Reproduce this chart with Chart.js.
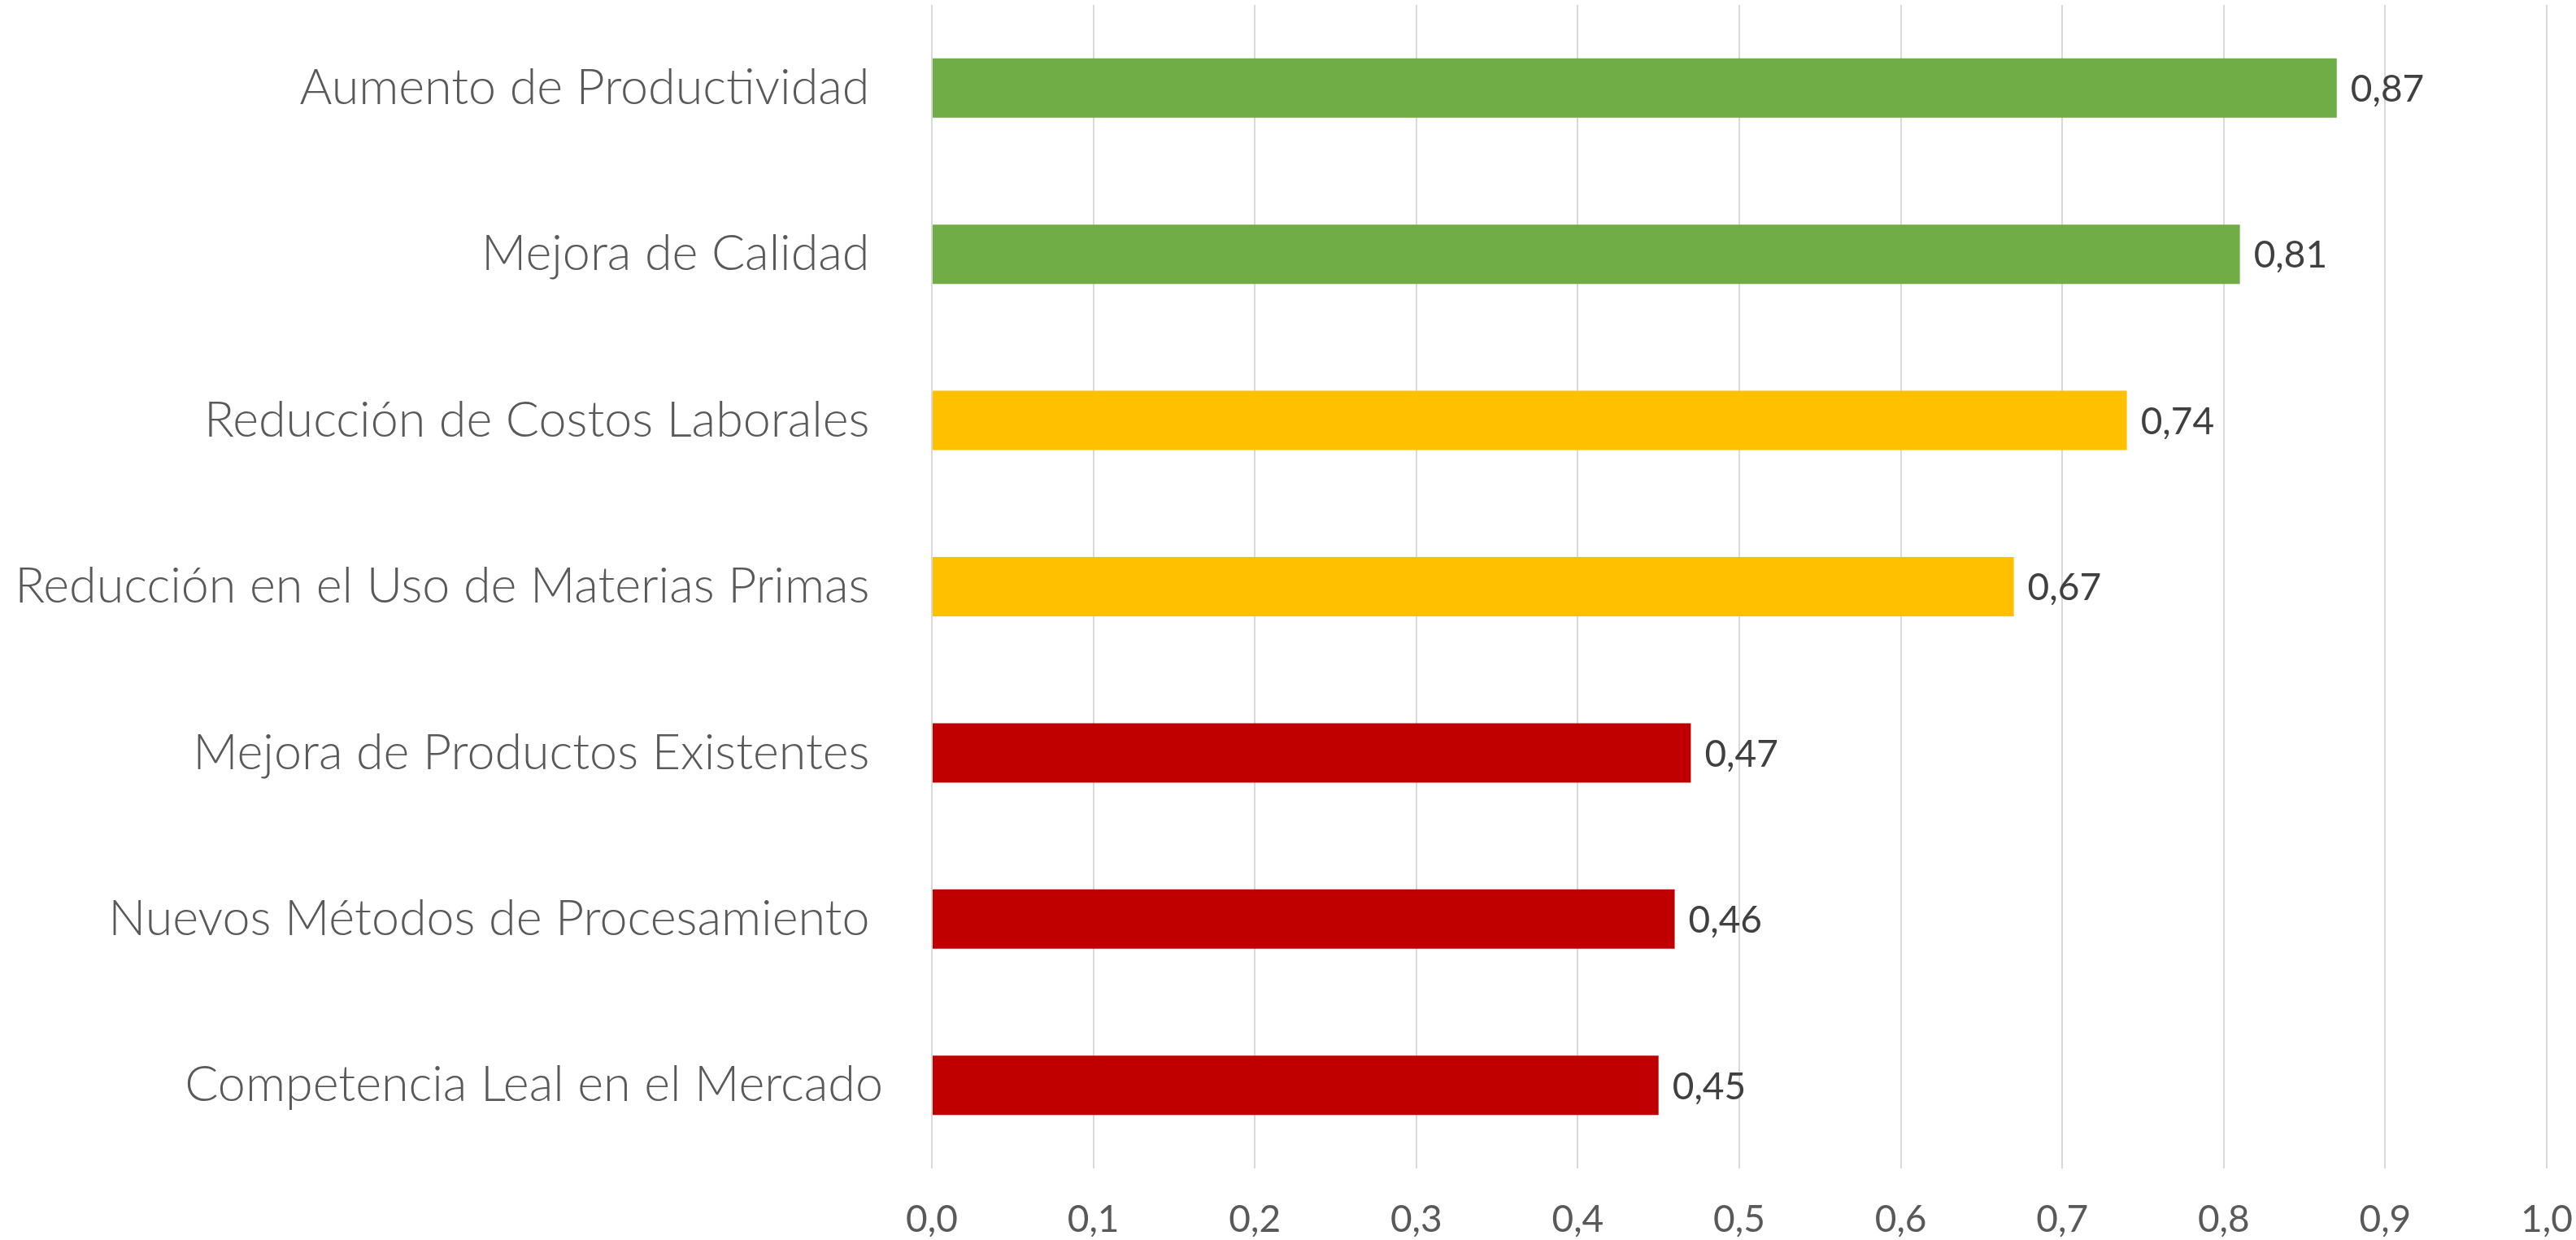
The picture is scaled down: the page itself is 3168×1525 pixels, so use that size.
<!DOCTYPE html>
<html>
<head>
<meta charset="utf-8">
<script src="https://cdn.jsdelivr.net/npm/chart.js@4/dist/chart.umd.min.js"></script>
<style>
  html, body { margin: 0; padding: 0; background: #fff; }
  #wrap { width: 3168px; height: 1525px; }
</style>
</head>
<body>
<div id="wrap"><canvas id="benefitsChart" width="3168" height="1525"></canvas></div>
<script>
// beneficios percibidos (valor medio)
const categories = [
  "Aumento de Productividad ",
  "Mejora de Calidad ",
  "Reducción de Costos Laborales ",
  "Reducción en el Uso de Materias Primas ",
  "Mejora de Productos Existentes ",
  "Nuevos Métodos de Procesamiento ",
  "Competencia Leal en el Mercado"
];
const values = [0.87, 0.81, 0.74, 0.67, 0.47, 0.46, 0.45];
const barColors = ["#70AD47", "#70AD47", "#FFC000", "#FFC000", "#C00000", "#C00000", "#C00000"];
const xTicks = ["0,0", "0,1", "0,2", "0,3", "0,4", "0,5", "0,6", "0,7", "0,8", "0,9", "1,0"];

const fmt = (v) => v.toFixed(2).replace(".", ",");

// sin relleno automatico de los ejes
const noPad = (scale) => {
  scale.paddingLeft = 0;
  scale.paddingRight = 0;
  scale.paddingTop = 0;
  scale.paddingBottom = 0;
};

// etiquetas de valor al final de cada barra
const valueLabels = {
  id: "valueLabels",
  afterDatasetsDraw(chart) {
    const ctx = chart.ctx;
    const meta = chart.getDatasetMeta(0);
    ctx.save();
    ctx.font = "46px Lato, 'Open Sans', sans-serif";
    ctx.fillStyle = "#404040";
    ctx.textAlign = "left";
    ctx.textBaseline = "middle";
    meta.data.forEach((bar, i) => {
      ctx.fillText(fmt(values[i]), bar.x + 17, bar.y + 2);
    });
    ctx.restore();
  }
};

const ctx = document.getElementById("benefitsChart").getContext("2d");

new Chart(ctx, {
  type: "bar",
  data: {
    labels: categories,
    datasets: [
      {
        data: values,
        backgroundColor: barColors,
        borderWidth: 0,
        categoryPercentage: 1,
        barPercentage: 0.357
      }
    ]
  },
  options: {
    indexAxis: "y",
    responsive: false,
    animation: false,
    devicePixelRatio: 1,
    layout: { padding: { top: 6, right: 36, left: 0, bottom: 0 } },
    plugins: {
      legend: { display: false },
      tooltip: { enabled: false }
    },
    scales: {
      x: {
        min: 0,
        max: 1,
        border: { display: false },
        grid: { color: "#D9D9D9", lineWidth: 2, drawTicks: false },
        ticks: {
          stepSize: 0.1,
          padding: 36,
          color: "#595959",
          font: { family: "Lato, 'Open Sans', sans-serif", size: 46 },
          callback: (v, i) => xTicks[i]
        },
        afterFit: (scale) => { scale.height = 88; noPad(scale); }
      },
      y: {
        border: { display: false },
        grid: { display: false, drawTicks: false },
        ticks: {
          padding: 60,
          color: "#595959",
          font: { family: "Lato, 'Open Sans', sans-serif", size: 61, weight: 300 }
        },
        afterFit: (scale) => { scale.width = 1146; noPad(scale); }
      }
    }
  },
  plugins: [valueLabels]
});
</script>
</body>
</html>
